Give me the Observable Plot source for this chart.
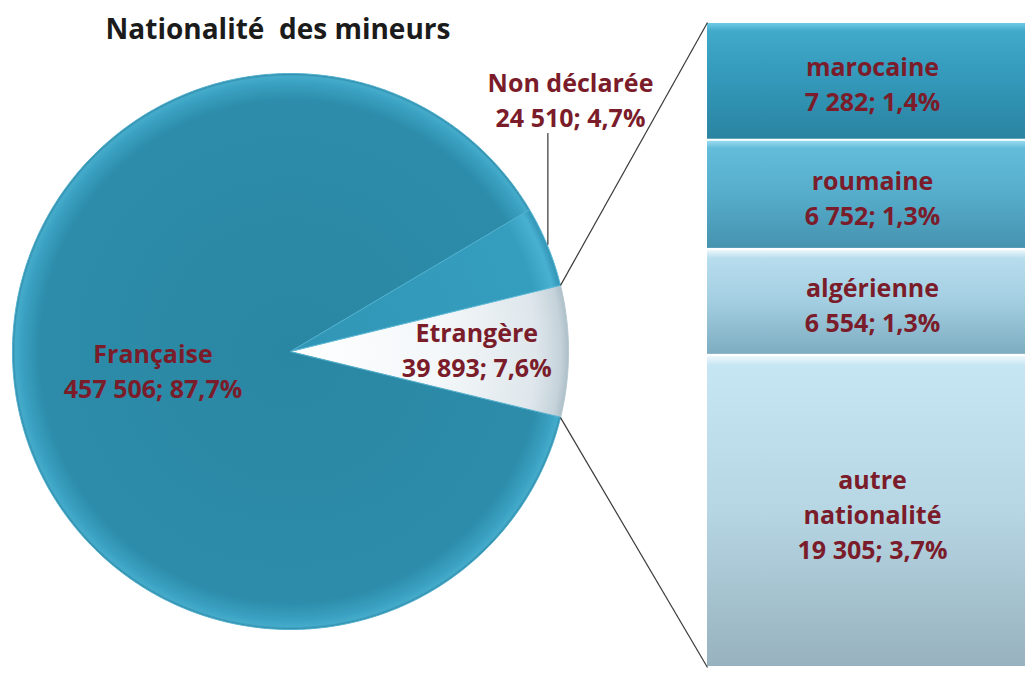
<!DOCTYPE html>
<html><head><meta charset="utf-8">
<script src="https://cdn.jsdelivr.net/npm/d3@7"></script>
<script src="https://cdn.jsdelivr.net/npm/@observablehq/plot@0.6"></script>
<style>
html,body{margin:0;padding:0;background:#fff;}
#chart{position:relative;width:1025px;height:675px;overflow:hidden;background:#fff;}
#chart svg{position:absolute;left:0;top:0;}
#title{position:absolute;left:0;top:9px;width:556px;text-align:center;font-family:"Open Sans";font-weight:bold;font-size:28px;line-height:38px;color:#1b1b1b;white-space:pre;z-index:3;}
</style></head><body>
<div id="chart"><div id="title"></div></div>
<script>
// ---- data ----
const titleText = "Nationalité  des mineurs";
const categories = ["Française", "Non déclarée", "Etrangère"];
const values = [457506, 24510, 39893];
const subCategories = ["marocaine", "roumaine", "algérienne", "autre\nnationalité"];
const subValues = [7282, 6752, 6554, 19305];

// ---- formatting ----
const loc = d3.formatLocale({decimal: ",", thousands: " ", grouping: [3], currency: ["", " €"]});
const fmtInt = loc.format(",d");
const fmtPct = loc.format(".1%");
const total = d3.sum(values);
const foreignTotal = d3.sum(subValues);

// ---- layout ----
const W = 1025, H = 675;
const cx = 290, cy = 351, R = 278;
const barLeft = 707, barRight = 1037, barTop = 22, barBottom = 667;
const labelColor = "#7a1c2a";
const font = "Open Sans";

document.getElementById("title").textContent = titleText;

// ---- pie geometry (unit circle coordinates) ----
const iF = categories.indexOf("Etrangère");
const iN = categories.indexOf("Non déclarée");
const iFr = categories.indexOf("Française");
const order = [iF, iN, iFr];
let a0 = -(values[iF] / total) * 360 / 2;
const slices = order.map(i => {
  const span = values[i] / total * 360;
  const s = {i, name: categories[i], value: values[i], start: a0, end: a0 + span, mid: a0 + span / 2};
  a0 += span;
  const n = Math.max(2, Math.ceil(span / 0.5));
  const pts = [{x: 0, y: 0}];
  for (let k = 0; k <= n; ++k) {
    const t = (s.start + (s.end - s.start) * k / n) * Math.PI / 180;
    pts.push({x: Math.cos(t), y: Math.sin(t)});
  }
  s.points = pts;
  return s;
});
const rad = d => d * Math.PI / 180;
const sliceFill = {"Française": "url(#gFr)", "Non déclarée": "url(#gNd)", "Etrangère": "url(#gEt)"};
const sliceStroke = {"Française": "#4fb0cf", "Non déclarée": "#5cbad8", "Etrangère": "#b5c6cf"};
const labelRadius = {"Française": 0.5, "Etrangère": 0.67};

const sF = slices.find(s => s.name === "Etrangère");
const sN = slices.find(s => s.name === "Non déclarée");
const toUx = px => (px - cx) / R, toUy = py => (cy - py) / R;

const pieLabels = slices.filter(s => labelRadius[s.name] != null).map(s => ({
  x: labelRadius[s.name] * Math.cos(rad(s.mid)),
  y: labelRadius[s.name] * Math.sin(rad(s.mid)),
  text: s.name + "\n" + fmtInt(s.value) + "; " + fmtPct(s.value / total)
}));
// outside label for Non déclarée
const ndLabel = {x: toUx(570), y: toUy(98), text: sN.name + "\n" + fmtInt(sN.value) + "; " + fmtPct(sN.value / total)};
const leader = [
  {x: Math.cos(rad(sN.mid)), y: toUy(133)},
  {x: Math.cos(rad(sN.mid)), y: Math.sin(rad(sN.mid)) * 1.02}
];
const connectors = [
  {x1: Math.cos(rad(sF.end)), y1: Math.sin(rad(sF.end)), x2: toUx(barLeft), y2: toUy(barTop)},
  {x1: Math.cos(rad(sF.start)), y1: Math.sin(rad(sF.start)), x2: toUx(barLeft), y2: toUy(barBottom)}
];

const textOpts = {fontFamily: font, fontWeight: "bold", fontSize: 25, fill: labelColor, lineHeight: 1.4, lineAnchor: "middle", textAnchor: "middle"};

// ---- bar plot ----
const barFills = ["url(#b0)", "url(#b1)", "url(#b2)", "url(#b3)"];
const subData = subCategories.map((name, i) => ({
  name, value: subValues[i], fill: barFills[i],
  label: name + "\n" + fmtInt(subValues[i]) + "; " + fmtPct(subValues[i] / total)
}));

const barPlot = Plot.plot({
  width: W, height: H, margin: 0,
  style: {background: "transparent", overflow: "visible"},
  x: {domain: [0, 1], range: [barLeft, barRight], axis: null},
  y: {domain: [0, foreignTotal], range: [barTop, barBottom], axis: null},
  color: {type: "identity"},
  marks: [
    Plot.rectY(subData, Plot.stackY({x1: 0, x2: 1, y: "value", fill: "fill", insetTop: 1, insetBottom: 1})),
    Plot.text(subData, Plot.stackY({x: 0.5, y: "value", text: "label", ...textOpts, dy: 1}))
  ]
});

const piePlot = Plot.plot({
  width: W, height: H, margin: 0,
  style: {background: "transparent", overflow: "visible"},
  x: {domain: [-1, 1], range: [cx - R, cx + R], axis: null},
  y: {domain: [-1, 1], range: [cy + R, cy - R], axis: null},
  marks: [
    ...slices.map(s => Plot.line(s.points, {x: "x", y: "y", curve: "linear-closed", fill: sliceFill[s.name], stroke: sliceStroke[s.name], strokeWidth: 1})),
    Plot.link(connectors, {x1: "x1", y1: "y1", x2: "x2", y2: "y2", stroke: "#3a3a3a", strokeWidth: 1.2}),
    Plot.line(leader, {x: "x", y: "y", stroke: "#333", strokeWidth: 1.2}),
    Plot.text(pieLabels, {x: "x", y: "y", text: "text", ...textOpts, dy: -3}),
    Plot.text([ndLabel], {x: "x", y: "y", text: "text", ...textOpts})
  ]
});

const pieDefs = `
<radialGradient id="gFr" gradientUnits="userSpaceOnUse" cx="${cx}" cy="${cy}" r="${R}">
  <stop offset="0" stop-color="#2a87a3"/><stop offset="0.9" stop-color="#2c8ca9"/>
  <stop offset="0.965" stop-color="#3aa0c1"/><stop offset="0.99" stop-color="#45abcb"/><stop offset="1" stop-color="#2d88a5"/>
</radialGradient>
<radialGradient id="gNd" gradientUnits="userSpaceOnUse" cx="${cx}" cy="${cy}" r="${R}">
  <stop offset="0" stop-color="#3196b6"/><stop offset="0.9" stop-color="#359dbe"/>
  <stop offset="0.97" stop-color="#48b0d1"/><stop offset="1" stop-color="#3194b4"/>
</radialGradient>
<radialGradient id="gEt" gradientUnits="userSpaceOnUse" cx="${cx}" cy="${cy}" r="${R}">
  <stop offset="0" stop-color="#ffffff"/><stop offset="0.55" stop-color="#f3f7f9"/>
  <stop offset="0.88" stop-color="#dfe7ec"/><stop offset="0.97" stop-color="#c6d3db"/><stop offset="1" stop-color="#aebfc9"/>
</radialGradient>`;
const barDefs = `
<linearGradient id="b0" x1="0" y1="0" x2="0" y2="1">
  <stop offset="0" stop-color="#6ccbe6"/><stop offset="0.07" stop-color="#41a9ca"/><stop offset="0.5" stop-color="#3398b9"/><stop offset="1" stop-color="#2a84a1"/>
</linearGradient>
<linearGradient id="b1" x1="0" y1="0" x2="0" y2="1">
  <stop offset="0" stop-color="#9adbf0"/><stop offset="0.07" stop-color="#62bcda"/><stop offset="0.5" stop-color="#55adcb"/><stop offset="1" stop-color="#4693af"/>
</linearGradient>
<linearGradient id="b2" x1="0" y1="0" x2="0" y2="1">
  <stop offset="0" stop-color="#eef8fc"/><stop offset="0.08" stop-color="#b7ddee"/><stop offset="0.5" stop-color="#a3cee1"/><stop offset="1" stop-color="#7dacc0"/>
</linearGradient>
<linearGradient id="b3" x1="0" y1="0" x2="0" y2="1">
  <stop offset="0" stop-color="#eef8fc"/><stop offset="0.03" stop-color="#c7e6f3"/><stop offset="0.5" stop-color="#b6d6e4"/><stop offset="1" stop-color="#98b2bf"/>
</linearGradient>`;
d3.select(barPlot).insert("defs", ":first-child").html(barDefs);
d3.select(piePlot).insert("defs", ":first-child").html(pieDefs);

const chart = document.getElementById("chart");
chart.appendChild(barPlot);
chart.appendChild(piePlot);
</script>
</body></html>
